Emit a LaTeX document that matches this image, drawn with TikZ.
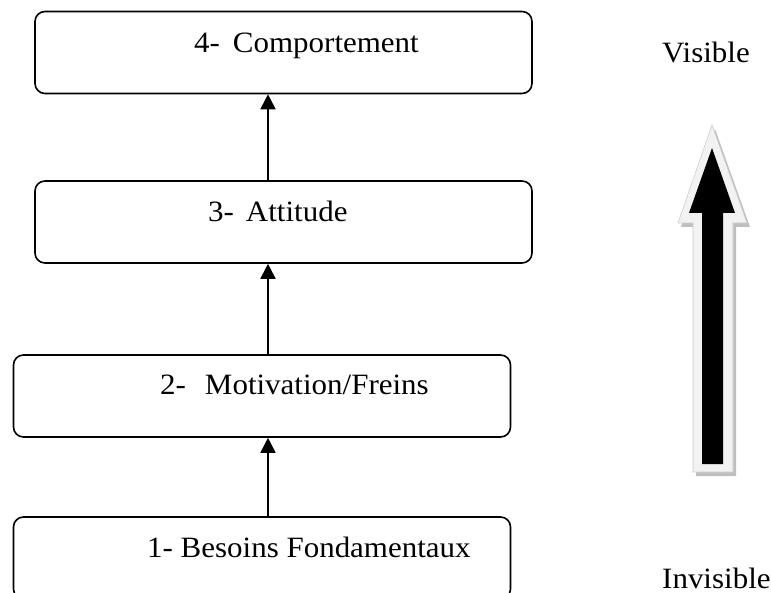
\documentclass[tikz,border=0pt]{standalone}
\usepackage{fontspec}
\setmainfont{Liberation Serif}[FakeStretch=1.05]
\usetikzlibrary{arrows.meta}
\begin{document}
\begin{tikzpicture}[x=1pt,y=-1pt,font=\fontsize{29.5}{34}\selectfont]
\tikzstyle{box}=[draw,line width=1.6pt,rounded corners=10pt,minimum width=497pt,minimum height=82pt,inner sep=0pt]
\tikzstyle{lbl}=[anchor=base west,inner sep=0pt]
\tikzstyle{up}=[line width=1.8pt,-{Triangle[length=15pt,width=15pt]}]
\useasboundingbox (0,0) rectangle (771,593);
\node[box] (b4) at (283.5,52.5) {};
\node[box] (b3) at (283.5,222) {};
\node[box] (b2) at (262,396) {};
\node[box] (b1) at (262,558) {};
\node[lbl] (t4) at (194,53) {4-\hspace{13pt}Comportement};
\node[lbl] (t3) at (208,222) {3-\hspace{12pt}Attitude};
\node[lbl] (t2) at (160,395) {2-\hspace{19pt}Motivation/Freins};
\node[lbl] (t1) at (147,557) {1- Besoins Fondamentaux};
\draw[up] ([xshift=-15.5pt]b3.north) -- ([xshift=-15.5pt]b4.south);
\draw[up] ([xshift=6pt]b2.north) -- ([xshift=6pt]b2.north |- b3.south);
\draw[up] ([xshift=6pt]b1.north) -- ([xshift=6pt]b2.south);
% big arrow, visible / invisible
\fill[black!25,shift={(3,4)}] (712,125) -- (747,223) -- (733,223) -- (733,472) -- (693,472) -- (693,223) -- (678,223) -- cycle;
\filldraw[fill=black!5,draw=black!20,line width=0.6pt] (712,125) -- (747,223) -- (733,223) -- (733,472) -- (693,472) -- (693,223) -- (678,223) -- cycle;
\fill[black] (712,148) -- (735,213) -- (723,213) -- (723,464) -- (702,464) -- (702,213) -- (689,213) -- cycle;
\node[lbl] (vis) at (662,63) {Visible};
\node[lbl] (invis) at (662,588) {Invisible};
\end{tikzpicture}
\end{document}
